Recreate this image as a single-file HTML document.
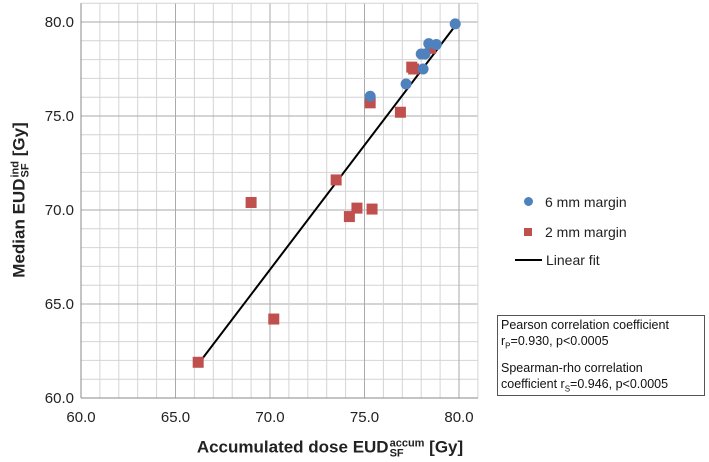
<!DOCTYPE html>
<html><head><meta charset="utf-8"><style>
body{margin:0;background:#fff;width:709px;height:462px;overflow:hidden;font-family:"Liberation Sans",sans-serif}
svg{display:block}
</style></head><body>
<svg id="c" width="709" height="462"></svg>
<script>
const xTicks=[60,65,70,75,80];
const yTicks=[60,65,70,75,80];
const xLabels=["60.0","65.0","70.0","75.0","80.0"];
const yLabels=["60.0","65.0","70.0","75.0","80.0"];
const sixX=[79.8,78.4,78.8,78.0,78.2,78.1,77.2,75.3];
const sixY=[79.9,78.85,78.8,78.3,78.3,77.5,76.7,76.05];
const twoX=[78.5,77.5,77.6,75.3,76.9,73.5,69.0,74.6,75.4,74.2,70.2,66.2];
const twoY=[78.6,77.6,77.5,75.7,75.2,71.6,70.4,70.1,70.05,69.65,64.2,61.9];
const fitX=[66.2,79.8];
const fitY=[61.8,79.8];
const NS="http://www.w3.org/2000/svg";
const svg=document.getElementById('c');
const X=v=>81+(v-60)*18.9;
const Y=v=>398-(v-60)*18.8;
function mk(t,a,p){const e=document.createElementNS(NS,t);for(const k in a)e.setAttribute(k,a[k]);(p||svg).appendChild(e);return e;}
const g=mk('g',{});


for(let v=60;v<=81;v++){
 const major=v%5==0;
 mk('line',{x1:X(v),x2:X(v),y1:Y(81),y2:Y(60),stroke:major?'#aaa':'#d4d4d4','stroke-width':1},g);
 mk('line',{x1:X(60),x2:X(81),y1:Y(v),y2:Y(v),stroke:major?'#aaa':'#d4d4d4','stroke-width':1},g);
}
const ax=mk('g',{});


mk('line',{x1:X(60),x2:X(81),y1:Y(60),y2:Y(60),stroke:'#888'},ax);
mk('line',{x1:X(60),x2:X(60),y1:Y(60),y2:Y(81),stroke:'#888'},ax);
xTicks.forEach((v,i)=>{const t=mk('text',{x:X(v),y:422,'text-anchor':'middle','font-size':15,fill:'#222'},ax);t.textContent=xLabels[i];

});
yTicks.forEach((v,i)=>{const t=mk('text',{x:74,y:Y(v)+5,'text-anchor':'end','font-size':15,fill:'#222'},ax);t.textContent=yLabels[i];

});
const fl=mk('line',{x1:X(fitX[0]),y1:Y(fitY[0]),x2:X(fitX[1]),y2:Y(fitY[1]),stroke:'#000','stroke-width':2});


twoX.forEach((v,i)=>{const r=mk('rect',{x:X(v)-5.5,y:Y(twoY[i])-5.5,width:11,height:11,fill:'#c0504d'});

});
sixX.forEach((v,i)=>{const c=mk('circle',{cx:X(v),cy:Y(sixY[i]),r:5.5,fill:'#4f81bd'});

});
</script>
<div style="position:absolute;left:20px;top:200px;transform:translate(-50%,-50%) rotate(-90deg);white-space:nowrap;font-weight:bold;font-size:17px;color:#222">Median EUD<span style="display:inline-block;vertical-align:-4px;line-height:10px;font-size:11px;margin-left:1px">ind<br>SF</span> [Gy]</div>
<div style="position:absolute;left:330px;top:448px;transform:translate(-50%,-50%);white-space:nowrap;font-weight:bold;font-size:17px;color:#222">Accumulated dose EUD<span style="display:inline-block;vertical-align:-4px;line-height:10px;font-size:11px;margin-left:1px">accum<br>SF</span> [Gy]</div>
<div style="position:absolute;left:515px;top:194px;font-size:14px;color:#222">
<div style="position:absolute;left:9px;top:0;white-space:nowrap"><span style="display:inline-block;width:9px;height:9px;border-radius:50%;background:#4f81bd;vertical-align:1px;margin-right:12px"></span>6 mm margin</div>
<div style="position:absolute;left:9px;top:30px;white-space:nowrap"><span style="display:inline-block;width:8px;height:8px;background:#c0504d;vertical-align:1px;margin-right:13px"></span>2 mm margin</div>
<div style="position:absolute;left:0;top:58px;white-space:nowrap"><span style="display:inline-block;width:27px;height:2px;background:#000;vertical-align:4px;margin-right:4px"></span>Linear fit</div>
</div>
<div style="position:absolute;left:497px;top:315px;width:208px;height:81px;border:1px solid #555;font-size:12.5px;line-height:16px;color:#111;padding:1px 0 0 3px;box-sizing:border-box">
Pearson correlation coefficient<br>r<sub style="font-size:8px">P</sub>=0.930, p&lt;0.0005<div style="height:5px"></div>Spearman-rho correlation<br>coefficient r<sub style="font-size:8px">S</sub>=0.946, p&lt;0.0005</div>
</body></html>
